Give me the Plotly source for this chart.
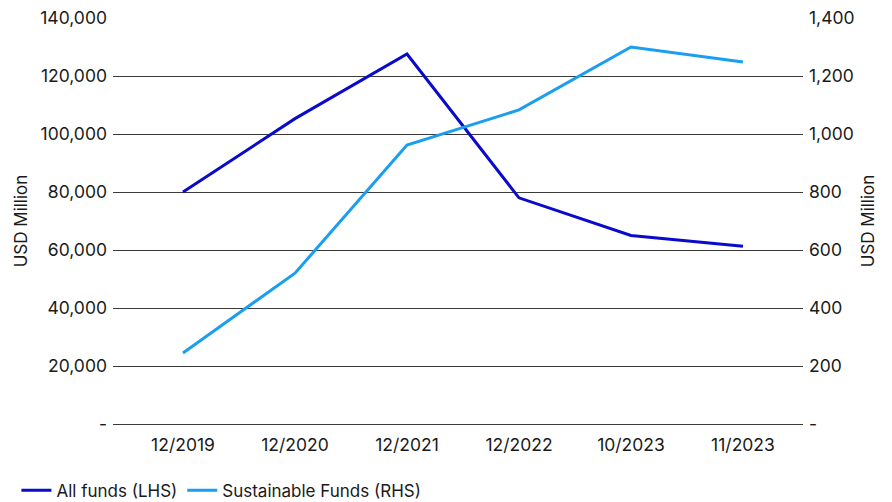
import plotly.graph_objects as go

categories = ["12/2019", "12/2020", "12/2021", "12/2022", "10/2023", "11/2023"]
all_funds = [80000, 105300, 127600, 78000, 65000, 61300]
sustainable = [245, 520, 962, 1083, 1300, 1248]

left_ticks = [0, 20000, 40000, 60000, 80000, 100000, 120000, 140000]
left_text = ["-", "20,000", "40,000", "60,000", "80,000", "100,000", "120,000", "140,000"]
right_ticks = [0, 200, 400, 600, 800, 1000, 1200, 1400]
right_text = ["-", "200", "400", "600", "800", "1,000", "1,200", "1,400"]

FONT = "Inter, Roboto, sans-serif"
x = list(range(len(categories)))

fig = go.Figure()
fig.add_trace(go.Scatter(x=x, y=all_funds, mode="lines", name="All funds (LHS)",
                         line=dict(color="#0A0ACD", width=3), yaxis="y"))
fig.add_trace(go.Scatter(x=x, y=sustainable, mode="lines", name="Sustainable Funds (RHS)",
                         line=dict(color="#1A9EF0", width=3), yaxis="y2"))

fig.update_layout(
    width=892, height=502,
    margin=dict(l=113, r=89, t=18, b=78, autoexpand=False),
    paper_bgcolor="white", plot_bgcolor="white",
    font=dict(family=FONT, size=17.5, color="#1a1a1a"),
    showlegend=True,
    legend=dict(orientation="h", x=-0.14, xanchor="left", y=-0.12, yanchor="top",
                font=dict(size=17), itemwidth=30, tracegroupgap=0),
    xaxis=dict(range=[-0.625, 5.536], tickvals=x, ticktext=categories,
               showgrid=False, zeroline=False, showline=False, ticks="",
               ticklabelstandoff=8, fixedrange=True),
    yaxis=dict(range=[0, 140000], tickvals=left_ticks, ticktext=left_text,
               showgrid=True, gridcolor="#3a3a3a", gridwidth=1,
               zeroline=True, zerolinecolor="#3a3a3a", zerolinewidth=1,
               title=dict(text="USD Million", font=dict(size=17), standoff=8),
               ticklabelstandoff=5),
    yaxis2=dict(range=[0, 1400], tickvals=right_ticks, ticktext=right_text,
                overlaying="y", side="right", showgrid=False, zeroline=False,
                title=dict(text="USD Million", font=dict(size=17), standoff=8),
                ticklabelstandoff=5),
)

fig.write_html("out.html")
